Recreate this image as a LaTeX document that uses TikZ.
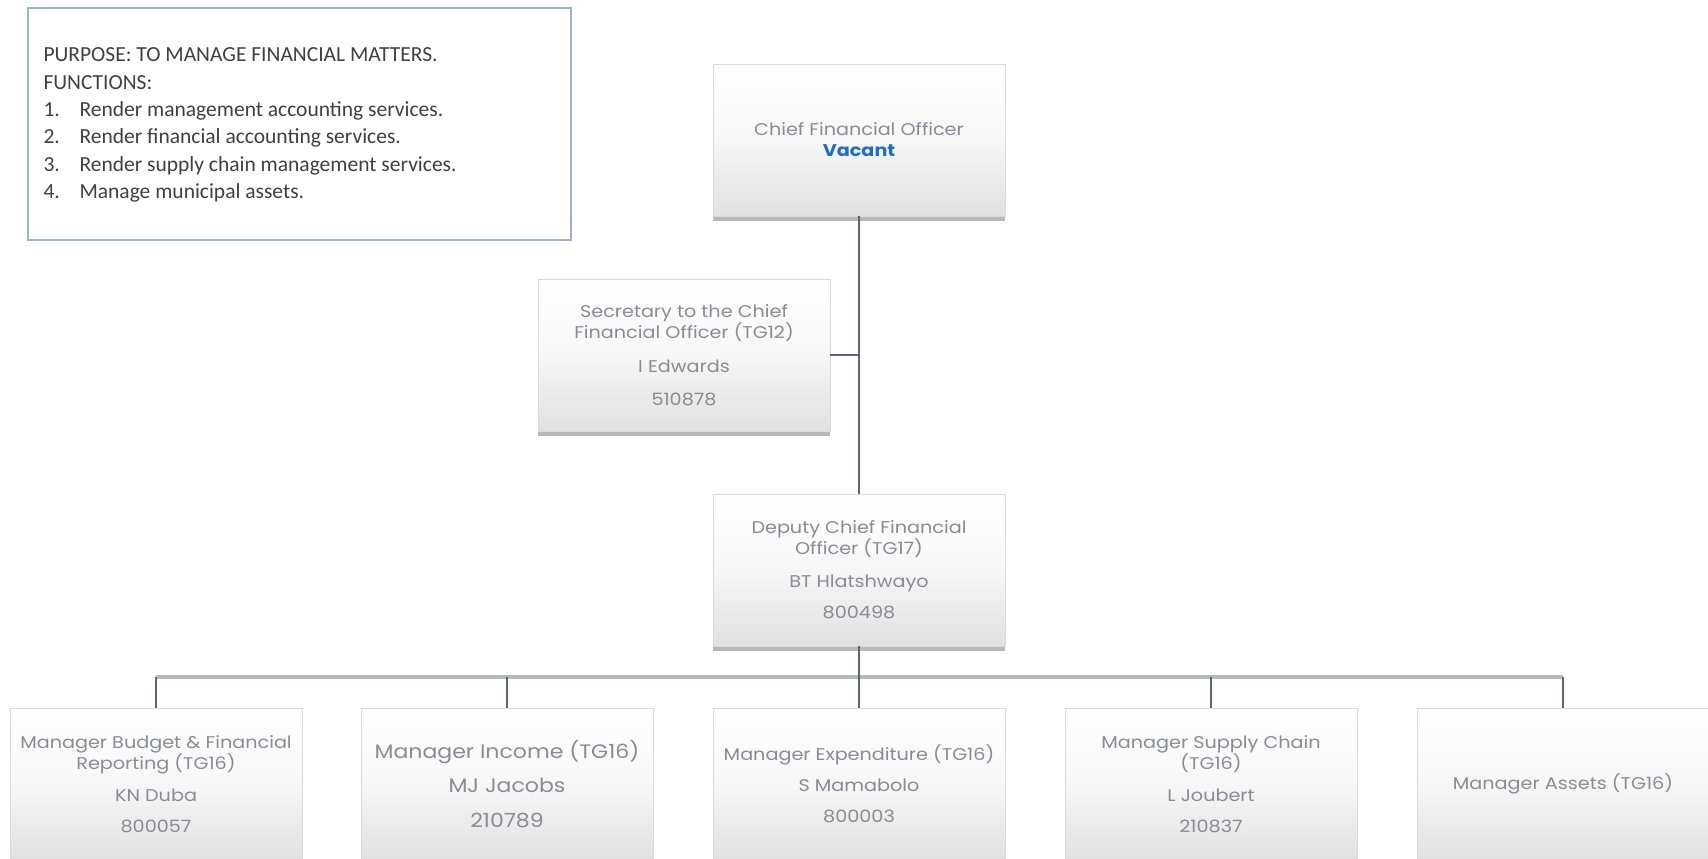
\documentclass[tikz,border=0pt]{standalone}
\usepackage{fontspec}
\setmainfont{Poppins}[FakeStretch=1.13]
\newfontfamily\bodyfont{Carlito}
\usetikzlibrary{shadows}
\definecolor{orgLine}{HTML}{5E6472}
\definecolor{orgBus}{HTML}{B4B8BF}
\definecolor{orgText}{HTML}{878C97}
\definecolor{orgBlue}{HTML}{1F6EC2}
\definecolor{orgFrame}{HTML}{9BB3CD}
\definecolor{orgEdge}{HTML}{DADADA}

\begin{document}
\begin{tikzpicture}[
    x=1pt, y=-1pt,
    every node/.style={font=\fontsize{17}{21}\selectfont},
    post/.style={draw=orgEdge, line width=0.8pt,
      top color=white, bottom color=black!12, middle color=white!97!black,
      minimum width=292pt, minimum height=152pt, inner sep=0pt,
      align=center, text=orgText,
      drop shadow={shadow xshift=0pt, shadow yshift=-5pt, opacity=0.5, fill=black!55}},
    link/.style={orgLine, line width=1.6pt},
    bus/.style={orgBus, line width=3.5pt},
  ]
  % Page: 1708 x 859, origin top left
  \clip (0,0) rectangle (1708,859);
  \fill[white] (0,0) rectangle (1708,859);

  % Rows and columns
  \def\rowA{140}
  \def\rowB{355}
  \def\rowC{570}
  \def\rowD{784}
  \def\busy{677}

  % Purpose and functions
  \draw[orgFrame, line width=1.8pt] (28,8) rectangle (571,240);
  \node[anchor=west, align=left, text=black!75,
        font=\bodyfont\fontsize{21.5}{27.3}\selectfont] (purpose) at (40,125) {%
    PURPOSE: TO MANAGE FINANCIAL MATTERS.\\
    FUNCTIONS:\\
    \makebox[36pt][l]{1.}Render management accounting services.\\
    \makebox[36pt][l]{2.}Render financial accounting services.\\
    \makebox[36pt][l]{3.}Render supply chain management services.\\
    \makebox[36pt][l]{4.}Manage municipal assets.};

  % Top of the department
  \node[post] (cfo) at (859,\rowA) {Chief Financial Officer\\
    \textcolor{orgBlue}{\bfseries Vacant}};
  \node[post] (sec) at (684,\rowB) {Secretary to the Chief\\
    Financial Officer (TG12)\\[13pt]I Edwards\\[12pt]510878};
  \node[post] (dep) at (859,\rowC) {Deputy Chief Financial\\
    Officer (TG17)\\[12pt]BT Hlatshwayo\\[10pt]800498};

  % Managers
  \node[post] (mbud) at (156,\rowD) {Manager Budget \& Financial\\
    Reporting (TG16)\\[11pt]KN Duba\\[10pt]800057};
  \node[post, font=\fontsize{19.5}{24}\selectfont] (minc) at (507,\rowD)
    {Manager Income (TG16)\\[10pt]MJ Jacobs\\[11pt]210789};
  \node[post] (mexp) at (859,\rowD) {Manager Expenditure (TG16)\\[10pt]
    S Mamabolo\\[10pt]800003};
  \node[post] (msup) at (1211,\rowD) {Manager Supply Chain\\
    (TG16)\\[11pt]L Joubert\\[10pt]210837};
  \node[post] (mass) at (1563,\rowD) {Manager Assets (TG16)};

  % Reporting lines
  \coordinate (bus) at (859,\busy);
  \draw[link] (cfo.south) -- (dep.north);
  \draw[link] (sec.east) -- (sec.east -| cfo.south);
  \draw[bus] (mbud.north |- bus) -- (mass.north |- bus);
  \draw[link] (dep.south) -- (bus);
  \foreach \m in {mbud,minc,mexp,msup,mass}
    \draw[link] (\m.north) -- (\m.north |- bus);
\end{tikzpicture}
\end{document}
